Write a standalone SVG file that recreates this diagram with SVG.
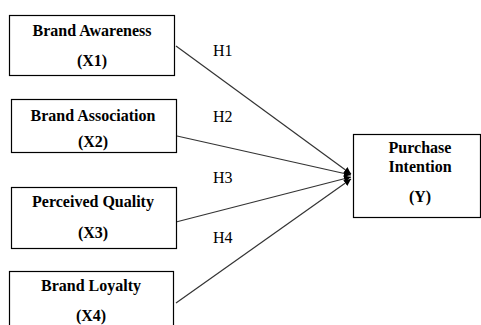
<svg xmlns="http://www.w3.org/2000/svg" width="481" height="325" viewBox="0 0 481 325">
<style>
.box{fill:#fff;stroke:#000;stroke-width:1.2}
.c{stroke:#333;stroke-width:1.2;fill:none;marker-end:url(#ah)}
</style>
<defs>
<marker id="ah" viewBox="0 0 10 10" refX="10" refY="5" markerWidth="7" markerHeight="7" orient="auto" markerUnits="userSpaceOnUse">
<path d="M0,0 L10,5 L0,10 z" fill="#000"/>
</marker>
</defs>
<rect width="481" height="325" fill="#fff"/>
<g id="connectors">
<line class="c" x1="176" y1="46" x2="351" y2="174"/>
<line class="c" x1="177" y1="136" x2="351" y2="175"/>
<line class="c" x1="176" y1="222" x2="351" y2="177"/>
<line class="c" x1="176" y1="303" x2="351" y2="179"/>
<g font-family="Liberation Serif, Times New Roman, serif" font-size="16" fill="#000">
<text x="213" y="56">H1</text>
<text x="213" y="122">H2</text>
<text x="213" y="183">H3</text>
<text x="213" y="243">H4</text>
</g>
</g>
<g font-family="Liberation Serif, Times New Roman, serif" font-size="16" font-weight="bold" text-anchor="middle" fill="#000">
<g id="x1">
<rect class="box" x="9.5" y="15.5" width="165" height="60"/>
<text x="92" y="36">Brand Awareness</text>
<text x="92" y="66">(X1)</text>
</g>
<g id="x2">
<rect class="box" x="11.5" y="99.5" width="165" height="53"/>
<text x="93" y="121">Brand Association</text>
<text x="93" y="147">(X2)</text>
</g>
<g id="x3">
<rect class="box" x="11.5" y="187.5" width="165" height="61"/>
<text x="93" y="207">Perceived Quality</text>
<text x="93" y="238">(X3)</text>
</g>
<g id="x4">
<rect class="box" x="9.5" y="271.5" width="164" height="60"/>
<text x="91" y="291">Brand Loyalty</text>
<text x="91" y="321">(X4)</text>
</g>
<g id="y">
<rect class="box" x="353.5" y="134.5" width="127" height="83"/>
<text x="420" y="153">Purchase</text>
<text x="420" y="172">Intention</text>
<text x="420" y="202">(Y)</text>
</g>
</g>
</svg>
